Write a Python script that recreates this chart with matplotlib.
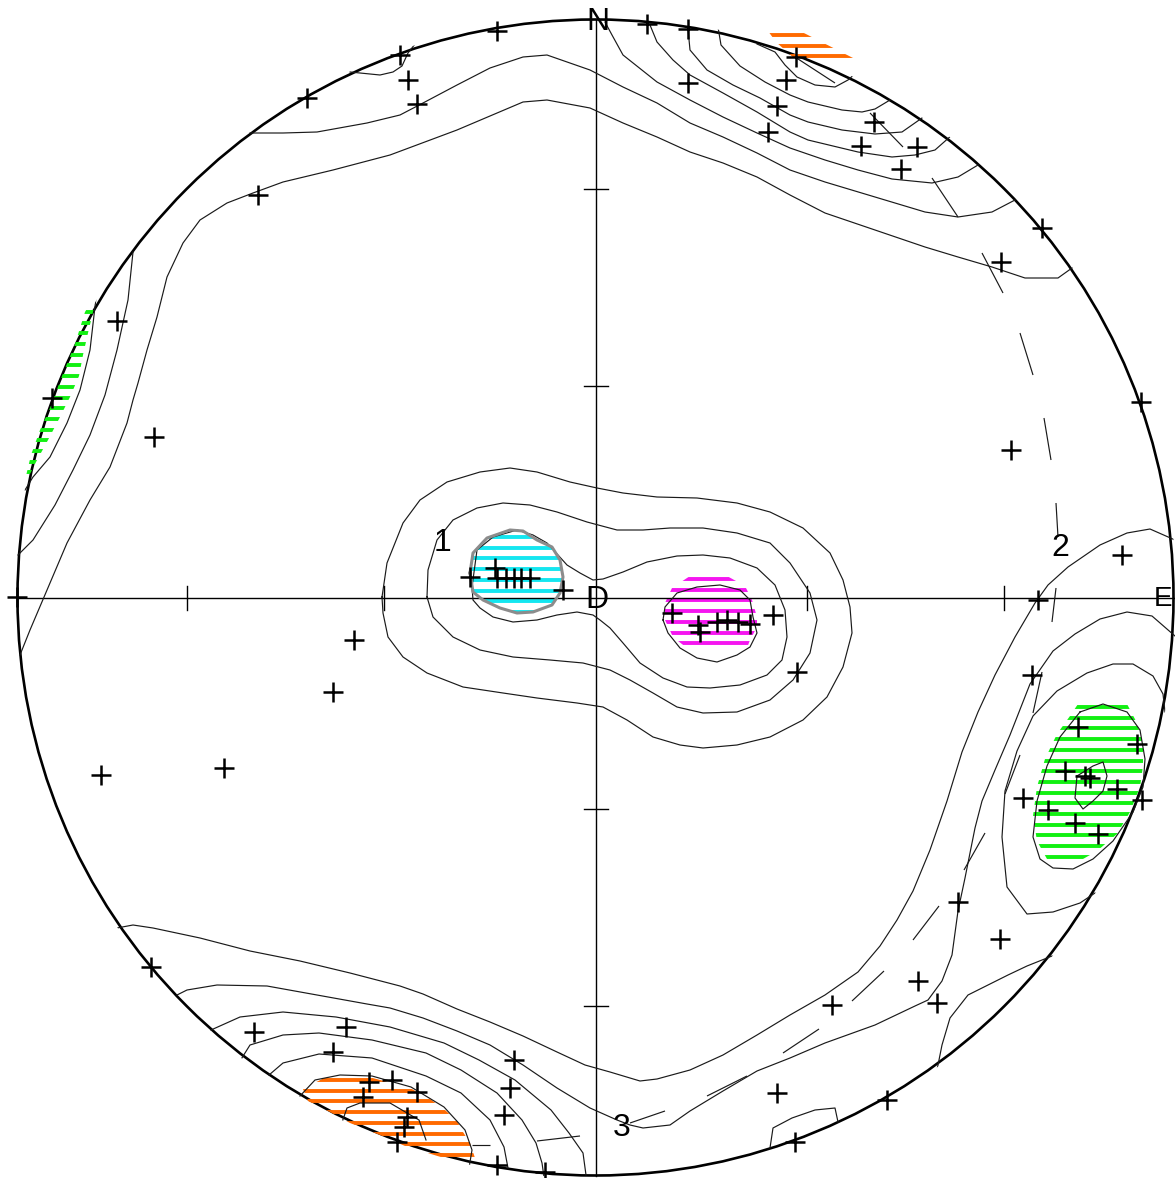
"""
Equal-area pole plot with density contours and hatched maxima.
"""
import matplotlib
matplotlib.use('Agg')
import matplotlib.pyplot as plt
import numpy as np
from matplotlib.patches import Circle, PathPatch
from matplotlib.path import Path
from matplotlib.collections import LineCollection

# net geometry (picture units)
CENTER = (595.5, 597.5)
RADIUS = 578
TICK_PLUNGES = [30, 60]

# poles
CROSS_X = [400, 408, 417, 497, 307, 258, 647, 688, 688, 786, 777, 768, 796, 874, 861, 917, 901, 1042, 1001,
           117, 52, 154, 17, 354, 333, 101, 224,
           470, 495, 497, 506, 514, 521, 530, 563,
           672, 698, 700, 717, 727, 738, 750, 773, 797,
           1141, 1011, 1122, 1038, 1032,
           1078, 1137, 1065, 1085, 1090, 1117, 1142, 1023, 1048, 1075, 1098,
           958, 1000, 918, 937, 832, 777, 887, 795,
           151, 254, 346, 333, 369, 392, 417, 363, 407, 404, 397, 514, 510, 504, 497, 545]
CROSS_Y = [55, 80, 104, 31, 98, 195, 24, 29, 83, 80, 106, 132, 57, 122, 146, 147, 169, 228, 262,
           321, 398, 437, 597, 640, 692, 775, 768,
           577, 568, 578, 578, 578, 578, 578, 590,
           613, 625, 632, 622, 620, 622, 624, 615, 672,
           402, 450, 555, 600, 675,
           727, 744, 771, 776, 778, 789, 800, 798, 810, 823, 834,
           902, 939, 981, 1003, 1005, 1093, 1100, 1142,
           967, 1032, 1027, 1052, 1082, 1080, 1092, 1097, 1117, 1127, 1142, 1060, 1088, 1115, 1165, 1172]

# contour lines
CONTOUR_P1 = [(382, 597), (387, 563), (403, 523), (420, 500), (447, 482), (480, 472), (510, 468), (537, 472),
              (570, 482), (597, 488), (623, 493), (657, 497), (697, 498), (737, 503), (770, 512), (803, 528),
              (830, 553), (843, 580), (850, 607), (852, 633), (843, 667), (827, 697), (803, 720), (770, 737),
              (737, 745), (703, 748), (680, 745), (653, 737), (627, 720), (603, 707), (577, 703), (537, 698),
              (503, 693), (463, 687), (427, 673), (403, 657), (388, 637), (383, 613), (382, 597)]
CONTOUR_P2 = [(427, 597), (428, 570), (437, 540), (453, 520), (477, 508), (503, 503), (530, 505), (557, 512),
              (587, 522), (617, 530), (643, 530), (670, 528), (703, 528), (737, 533), (770, 543), (790, 563),
              (810, 593), (817, 620), (810, 653), (793, 680), (770, 700), (737, 712), (703, 713), (677, 707),
              (653, 693), (630, 680), (610, 670), (583, 663), (550, 660), (513, 657), (480, 650), (453, 637),
              (433, 617), (427, 597)]
CONTOUR_P3 = [(472, 587), (477, 550), (493, 537), (517, 530), (533, 535), (547, 543), (558, 555), (567, 565),
              (580, 573), (593, 580), (603, 579), (623, 572), (647, 562), (677, 556), (703, 555), (730, 558),
              (757, 568), (775, 585), (785, 610), (787, 637), (782, 660), (767, 675), (740, 685), (710, 688),
              (687, 687), (663, 678), (640, 663), (623, 643), (610, 628), (600, 620), (593, 615), (577, 612),
              (557, 615), (537, 620), (513, 622), (493, 617), (480, 608), (473, 600), (472, 587)]
CONTOUR_M = [(663, 620), (665, 607), (677, 593), (697, 587), (720, 585), (740, 590), (750, 600), (753, 617),
             (757, 633), (750, 647), (737, 655), (717, 662), (697, 658), (680, 648), (668, 633), (663, 620)]
CONTOUR_G1 = [(1080, 712), (1103, 704), (1127, 712), (1140, 730), (1145, 759), (1143, 787), (1133, 812),
              (1113, 841), (1093, 859), (1073, 869), (1053, 868), (1040, 859), (1033, 837), (1037, 801),
              (1047, 766), (1060, 737), (1080, 712)]
CONTOUR_G0 = [(1077, 776), (1093, 766), (1103, 762), (1107, 776), (1103, 791), (1093, 801), (1083, 809),
              (1075, 798), (1077, 776)]
CONTOUR_G2 = [(1165, 712), (1163, 694), (1153, 676), (1133, 664), (1113, 664), (1087, 673), (1057, 691),
              (1033, 716), (1017, 751), (1005, 791), (1002, 837), (1007, 887), (1027, 914), (1053, 912),
              (1080, 903), (1095, 893)]
CONTOUR_R2 = [(1175, 636), (1152, 616), (1127, 612), (1100, 619), (1075, 634), (1053, 651), (1030, 684),
              (1010, 735), (995, 770), (982, 801), (975, 828), (965, 878), (958, 911), (952, 955), (942, 981),
              (928, 1000), (915, 1006), (875, 1025), (825, 1043), (790, 1058), (757, 1071), (723, 1091),
              (690, 1111), (670, 1125), (643, 1128), (630, 1125), (617, 1120), (590, 1108), (557, 1088),
              (523, 1065), (490, 1045), (457, 1031), (423, 1018), (390, 1008), (367, 1004), (317, 995),
              (267, 986), (217, 985), (187, 990), (177, 995)]
CONTOUR_R1 = [(1175, 540), (1150, 529), (1127, 533), (1100, 545), (1068, 567), (1048, 585), (1035, 603),
              (1015, 637), (995, 675), (978, 712), (962, 752), (947, 801), (930, 850), (913, 891), (897, 920),
              (880, 946), (858, 972), (825, 995), (790, 1015), (757, 1035), (723, 1055), (690, 1070),
              (657, 1079), (640, 1081), (610, 1072), (585, 1065), (557, 1052), (523, 1036), (490, 1022),
              (457, 1009), (423, 994), (400, 986), (350, 973), (300, 961), (250, 951), (200, 938), (153, 928),
              (133, 925), (117, 928)]
CONTOUR_R3 = [(1052, 956), (1027, 966), (1008, 975), (968, 995), (950, 1018), (942, 1045), (937, 1070)]
CONTOUR_R4 = [(770, 1148), (773, 1128), (792, 1118), (815, 1110), (835, 1108), (838, 1122)]
CONTOUR_B3 = [(211, 1030), (240, 1017), (283, 1012), (336, 1017), (390, 1027), (444, 1043), (479, 1060),
              (515, 1080), (551, 1110), (569, 1133), (583, 1153), (586, 1175)]
CONTOUR_B4 = [(240, 1061), (250, 1045), (283, 1035), (319, 1033), (372, 1040), (426, 1053), (461, 1070),
              (497, 1093), (522, 1120), (536, 1143), (542, 1163), (544, 1177)]
CONTOUR_B5 = [(269, 1075), (283, 1063), (319, 1054), (372, 1058), (426, 1076), (461, 1093), (490, 1120),
              (504, 1147), (508, 1168)]
CONTOUR_B6 = [(300, 1096), (315, 1080), (340, 1075), (372, 1076), (411, 1087), (444, 1107), (465, 1130),
              (472, 1150), (469, 1168)]
CONTOUR_B7 = [(340, 1128), (347, 1108), (360, 1103), (390, 1103), (419, 1120), (426, 1140)]
CONTOUR_TR1 = [(757, 44), (775, 52), (785, 65), (797, 77), (815, 85), (835, 87), (848, 80), (857, 72)]
CONTOUR_TR2 = [(718, 27), (721, 45), (740, 66), (765, 82), (790, 95), (808, 102), (842, 110), (862, 112),
               (875, 109), (890, 100)]
CONTOUR_TR3 = [(688, 29), (690, 50), (707, 70), (733, 85), (760, 98), (790, 115), (808, 122), (842, 130),
               (875, 134), (902, 132), (922, 118)]
CONTOUR_TR4 = [(650, 25), (657, 42), (673, 60), (690, 75), (723, 93), (757, 112), (790, 132), (808, 140),
               (858, 152), (892, 157), (915, 155), (935, 150), (952, 135)]
CONTOUR_TR5 = [(605, 22), (612, 35), (623, 55), (657, 82), (690, 100), (723, 117), (757, 133), (790, 148),
               (825, 160), (858, 170), (892, 179), (932, 183), (958, 177), (978, 165)]
CONTOUR_T1 = [(250, 133), (283, 133), (317, 132), (367, 123), (400, 115), (423, 103), (457, 85), (490, 68),
              (523, 57), (547, 55), (590, 70), (623, 87), (657, 103), (690, 123), (723, 137), (757, 153),
              (790, 170), (825, 182), (875, 197), (925, 212), (958, 217), (992, 212), (1015, 200)]
CONTOUR_T2 = [(20, 655), (30, 630), (50, 583), (67, 543), (90, 500), (110, 467), (127, 423), (133, 400),
              (138, 383), (147, 350), (157, 317), (167, 277), (183, 243), (200, 220), (227, 203), (253, 193),
              (283, 182), (333, 170), (390, 155), (457, 130), (523, 102), (547, 100), (590, 108), (623, 123),
              (657, 137), (690, 152), (723, 163), (757, 177), (790, 195), (825, 213), (875, 230), (925, 247),
              (958, 257), (992, 267), (1025, 278), (1058, 278), (1072, 268)]
CONTOUR_LA = [(133, 252), (128, 300), (117, 350), (105, 395), (90, 435), (73, 470), (55, 505), (33, 540),
              (18, 555)]
CONTOUR_LB = [(96, 298), (90, 350), (80, 390), (67, 423), (50, 457), (33, 477), (25, 490)]
CONTOUR_TL = [(350, 72), (380, 75), (393, 72), (402, 66), (408, 53), (415, 44)]
CONTOURS = [CONTOUR_P1, CONTOUR_P2, CONTOUR_P3, CONTOUR_M, CONTOUR_G1, CONTOUR_G0, CONTOUR_G2,
            CONTOUR_R1, CONTOUR_R2, CONTOUR_R3, CONTOUR_R4, CONTOUR_B3, CONTOUR_B4, CONTOUR_B5, CONTOUR_B6,
            CONTOUR_B7, CONTOUR_TR1, CONTOUR_TR2, CONTOUR_TR3, CONTOUR_TR4, CONTOUR_TR5, CONTOUR_T1,
            CONTOUR_T2, CONTOUR_LA, CONTOUR_LB, CONTOUR_TL]

# short strike traces
TRACES = [((795, 57), (835, 83)), ((870, 113), (903, 147)), ((932, 178), (958, 217)),
          ((537, 1141), (580, 1136)), ((472, 1145), (490, 1145))]

# dashed great circle, one pair per dash
DASHES = [((982, 253), (1003, 293)), ((1020, 333), (1033, 375)), ((1044, 418), (1051, 460)),
          ((1056, 503), (1058, 537)), ((1056, 588), (1052, 622)), ((1042, 672), (1033, 713)),
          ((1020, 755), (1005, 794)), ((985, 833), (964, 870)), ((939, 906), (913, 940)),
          ((884, 971), (852, 1001)), ((819, 1029), (783, 1053)), ((747, 1076), (707, 1096)),
          ((665, 1111), (630, 1123))]

# hatched maxima: outline, first hatch row, colour
HATCH_CYAN = [(470, 573), (473, 553), (487, 538), (510, 530), (523, 531), (537, 540), (552, 547), (560, 560),
              (563, 577), (560, 593), (552, 605), (533, 612), (517, 613), (500, 608), (483, 600), (473, 592)]
HATCH_MAGENTA = [(690, 576), (727, 576), (745, 586), (752, 600), (757, 617), (757, 627), (750, 640), (747, 648),
                 (687, 648), (673, 637), (665, 620), (665, 603), (672, 588)]
HATCH_GREEN_R = [(1078, 704), (1127, 704), (1137, 723), (1143, 744), (1143, 766), (1140, 787), (1130, 812),
                 (1117, 834), (1097, 851), (1083, 859), (1047, 859), (1037, 841), (1033, 816), (1037, 787),
                 (1045, 759), (1057, 734), (1070, 716)]
HATCH_GREEN_L = [(96, 300), (93, 312), (88, 333), (83, 355), (79, 376), (70, 397), (59, 419), (48, 440),
                 (36, 462), (29, 476), (26, 476), (31, 455), (40, 430), (50, 408), (62, 376), (75, 344),
                 (85, 312), (92, 300)]
HATCH_ORANGE_B = [(326, 1077), (369, 1077), (410, 1088), (430, 1099), (445, 1110), (457, 1121), (463, 1132),
                  (470, 1143), (475, 1158), (444, 1158), (405, 1146), (380, 1135), (350, 1123), (330, 1112),
                  (308, 1101), (303, 1089)]
HATCH_ORANGE_T = [(768, 31), (800, 31), (855, 59), (795, 59), (776, 42)]
HATCHES = [(HATCH_CYAN, 537, '#14e6f0'), (HATCH_MAGENTA, 579, '#f515f0'),
           (HATCH_GREEN_R, 707, '#12f012'), (HATCH_GREEN_L, 312, '#12f012'),
           (HATCH_ORANGE_B, 1080, '#ff6a00'), (HATCH_ORANGE_T, 35, '#ff6a00')]
HATCH_STEP = 10.7

LABELS = [('N', 598, 22), ('D', 597, 600), ('1', 443, 543), ('2', 1060, 548), ('3', 622, 1128)]


def draw_hatch(ax, poly, y0, color):
    pts = np.array(poly, dtype=float)
    patch = PathPatch(Path(np.vstack([pts, pts[:1]]), closed=True), fc='none', ec='none')
    ax.add_patch(patch)
    ys = np.arange(y0, pts[:, 1].max() + 0.1, HATCH_STEP)
    lc = ax.hlines(ys, pts[:, 0].min() - 2, pts[:, 0].max() + 2, colors=color, lw=2.8)
    lc.set_capstyle('butt')
    lc.set_clip_path(patch)


def main():
    plt.rcParams['font.family'] = ['Liberation Sans', 'DejaVu Sans']
    fig = plt.figure(figsize=(11.75, 11.78), dpi=100)
    ax = fig.add_axes([0, 0, 1, 1])
    ax.set_xlim(0, 1175)
    ax.set_ylim(1178, 0)
    ax.axis('off')

    cx, cy = CENTER

    for poly, y0, color in HATCHES:
        draw_hatch(ax, poly, y0, color)

    clip = Circle(CENTER, RADIUS + 3, fc='none', ec='none')
    ax.add_patch(clip)

    # axes of the net and the plunge ticks (equal-area radii)
    ax.plot([cx, cx], [cy - RADIUS, cy + RADIUS], color='black', lw=1.0)
    ax.plot([cx - RADIUS, cx + RADIUS], [cy, cy], color='black', lw=1.0)
    for p in TICK_PLUNGES:
        d = RADIUS * np.sqrt(2) * np.sin(np.radians(90 - p) / 2)
        for s in (-1, 1):
            ax.plot([cx - 12, cx + 12], [cy + s * d] * 2, color='black', lw=1.0)
            ax.plot([cx + s * d] * 2, [cy - 12, cy + 12], color='black', lw=1.0)

    for line in CONTOURS:
        arr = np.array(line)
        ln, = ax.plot(arr[:, 0], arr[:, 1], color='#1a1a1a', lw=0.85)
        ln.set_clip_path(clip)

    tr = LineCollection(TRACES, colors='#1a1a1a', linewidths=0.85)
    ax.add_collection(tr)
    dl = LineCollection(DASHES, colors='#1a1a1a', linewidths=0.85)
    ax.add_collection(dl)

    # grey outline of the cyan maximum
    g = np.array(HATCH_CYAN + HATCH_CYAN[:1])
    ax.plot(g[:, 0], g[:, 1], color='#8c8c8c', lw=2.2)

    ax.add_patch(Circle(CENTER, RADIUS, fc='none', ec='black', lw=1.9))

    ax.plot(CROSS_X, CROSS_Y, linestyle='none', marker='+', color='black',
            markersize=14, markeredgewidth=1.8)

    for txt, x, y in LABELS:
        ax.text(x, y, txt, fontsize=23, ha='center', va='center', color='black')
    ax.text(1172, 599, 'E', fontsize=20, ha='right', va='center', color='black')

    fig.savefig('out.png', dpi=100, facecolor='white')


if __name__ == '__main__':
    main()
